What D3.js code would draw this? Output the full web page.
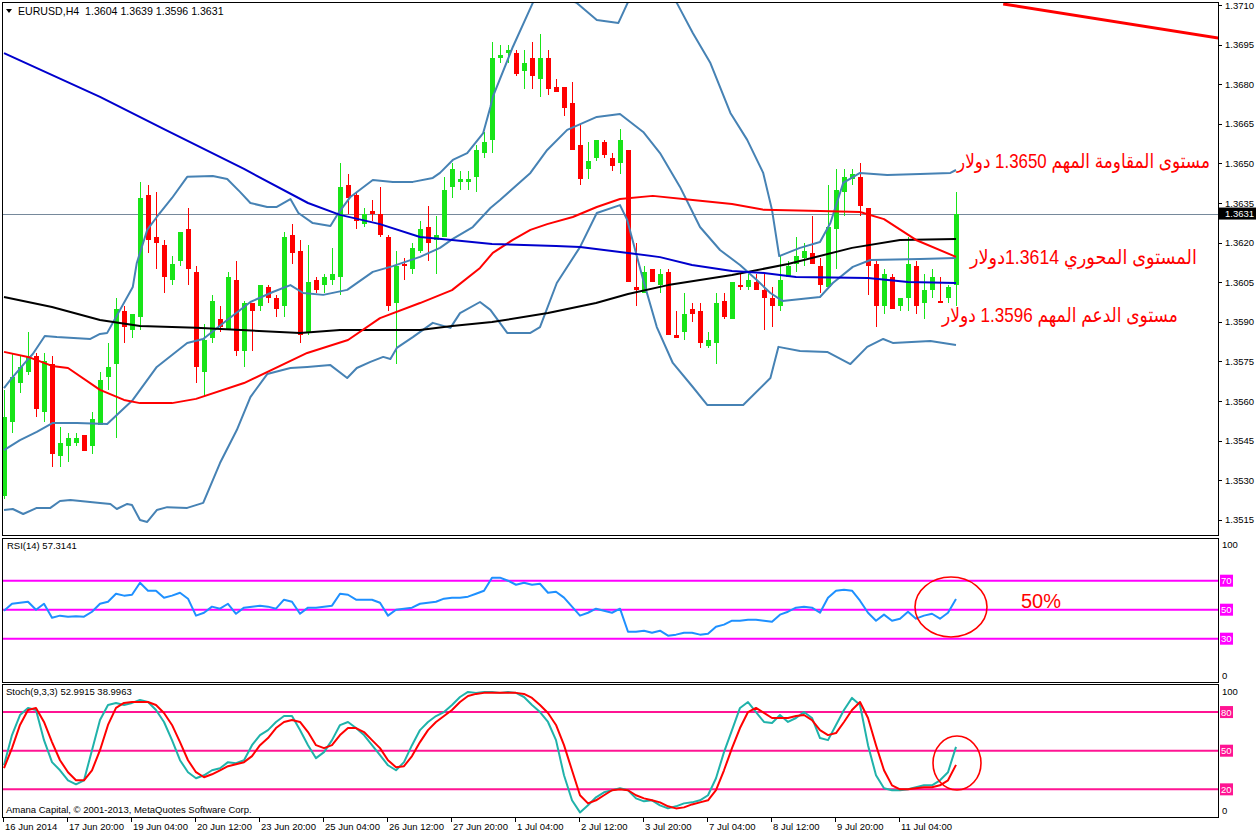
<!DOCTYPE html>
<html><head><meta charset="utf-8">
<script src="https://cdn.jsdelivr.net/npm/d3@7"></script>
<style>body{margin:0;background:#fff}svg{display:block}text{white-space:pre}</style>
</head><body>
<script>
// ---------- DATA ----------
const symbolTitle = "EURUSD,H4  1.3604 1.3639 1.3596 1.3631";
// [open, high, low, close] per H4 bar
const candles = [
[1.3524,1.3564,1.3523,1.3554],[1.3552,1.3578,1.3548,1.3569],[1.3567,1.3577,1.3563,1.3573],[1.3571,1.3586,1.3570,1.3577],
[1.3577,1.3578,1.3554,1.3557],[1.3556,1.3578,1.3552,1.3575],[1.3574,1.3577,1.3535,1.3540],[1.3539,1.3550,1.3535,1.3544],
[1.3543,1.3548,1.3537,1.3546],[1.3544,1.3548,1.3543,1.3546],[1.3547,1.3547,1.3541,1.3541],[1.3543,1.3556,1.3540,1.3553],
[1.3551,1.3571,1.3551,1.3568],[1.3569,1.3582,1.3564,1.3573],[1.3574,1.3599,1.3546,1.3595],[1.3594,1.3596,1.3582,1.3588],
[1.3587,1.3593,1.3584,1.3593],[1.3592,1.3643,1.3587,1.3637],[1.3638,1.3642,1.3616,1.3621],[1.3622,1.3639,1.3610,1.3620],
[1.3619,1.3621,1.3601,1.3607],[1.3606,1.3615,1.3604,1.3612],[1.3613,1.3624,1.3611,1.3624],[1.3625,1.3633,1.3604,1.3610],
[1.3609,1.3611,1.3567,1.3573],[1.3571,1.3589,1.3562,1.3583],[1.3584,1.3600,1.3582,1.3598],[1.3591,1.3596,1.3586,1.3588],
[1.3587,1.3609,1.3587,1.3607],[1.3606,1.3613,1.3577,1.3579],[1.3579,1.3598,1.3573,1.3597],[1.3597,1.3597,1.3579,1.3594],
[1.3596,1.3604,1.3594,1.3604],[1.3603,1.3604,1.3597,1.3599],[1.3599,1.3600,1.3592,1.3595],[1.3596,1.3624,1.3592,1.3622],
[1.3623,1.3627,1.3612,1.3616],[1.3617,1.3621,1.3582,1.3585],[1.3586,1.3619,1.3585,1.3605],[1.3606,1.3607,1.3601,1.3602],
[1.3604,1.3608,1.3601,1.3607],[1.3606,1.3618,1.3604,1.3608],[1.3607,1.3650,1.3600,1.3641],[1.3642,1.3646,1.3631,1.3637],
[1.3638,1.3639,1.3625,1.3628],[1.3627,1.3633,1.3626,1.3631],[1.3632,1.3636,1.3628,1.3631],[1.3631,1.3641,1.3622,1.3623],
[1.3622,1.3623,1.3594,1.3596],[1.3597,1.3617,1.3574,1.3611],[1.3612,1.3614,1.3606,1.3611],[1.3610,1.3620,1.3608,1.3618],
[1.3617,1.3628,1.3616,1.3625],[1.3626,1.3634,1.3613,1.3620],[1.3621,1.3630,1.3608,1.3623],[1.3622,1.3645,1.3622,1.3640],
[1.3641,1.3650,1.3637,1.3648],[1.3643,1.3647,1.3640,1.3644],[1.3643,1.3647,1.3640,1.3644],[1.3645,1.3657,1.3639,1.3655],
[1.3654,1.3662,1.3652,1.3658],[1.3659,1.3696,1.3654,1.3690],[1.3690,1.3695,1.3688,1.3691],[1.3692,1.3695,1.3688,1.3693],
[1.3692,1.3693,1.3683,1.3684],[1.3685,1.3693,1.3678,1.3688],[1.3690,1.3696,1.3678,1.3683],[1.3682,1.3699,1.3675,1.3690],
[1.3690,1.3693,1.3676,1.3678],[1.3679,1.3682,1.3677,1.3677],[1.3679,1.3679,1.3668,1.3671],[1.3673,1.3681,1.3655,1.3655],
[1.3657,1.3665,1.3642,1.3644],[1.3648,1.3658,1.3644,1.3651],[1.3652,1.3659,1.3651,1.3659],[1.3658,1.3659,1.3652,1.3653],
[1.3652,1.3654,1.3647,1.3649],[1.3650,1.3663,1.3646,1.3659],[1.3655,1.3655,1.3605,1.3605],[1.3603,1.3620,1.3596,1.3602],
[1.3601,1.3611,1.3601,1.3609],[1.3610,1.3610,1.3605,1.3605],[1.3604,1.3610,1.3601,1.3608],[1.3609,1.3610,1.3585,1.3585],
[1.3585,1.3594,1.3584,1.3584],[1.3586,1.3601,1.3583,1.3593],[1.3595,1.3597,1.3590,1.3593],[1.3594,1.3597,1.3580,1.3582],
[1.3581,1.3586,1.3580,1.3583],[1.3582,1.3601,1.3574,1.3597],[1.3598,1.3601,1.3591,1.3592],[1.3591,1.3605,1.3591,1.3605],
[1.3604,1.3608,1.3602,1.3603],[1.3603,1.3608,1.3602,1.3606],[1.3605,1.3608,1.3602,1.3602],[1.3602,1.3608,1.3587,1.3599],
[1.3599,1.3603,1.3588,1.3596],[1.3596,1.3615,1.3594,1.3606],[1.3607,1.3613,1.3607,1.3611],[1.3612,1.3622,1.3609,1.3615],
[1.3614,1.3620,1.3611,1.3617],[1.3616,1.3630,1.3612,1.3612],[1.3611,1.3614,1.3601,1.3604],[1.3603,1.3642,1.3603,1.3626],
[1.3625,1.3648,1.3610,1.3640],[1.3639,1.3648,1.3630,1.3645],[1.3644,1.3648,1.3642,1.3646],[1.3645,1.3650,1.3630,1.3634],
[1.3633,1.3633,1.3600,1.3611],[1.3612,1.3613,1.3588,1.3596],[1.3596,1.3610,1.3593,1.3608],[1.3607,1.3608,1.3595,1.3595],
[1.3596,1.3599,1.3594,1.3599],[1.3599,1.3622,1.3594,1.3612],[1.3611,1.3613,1.3593,1.3596],[1.3597,1.3608,1.3591,1.3602],
[1.3602,1.3610,1.3599,1.3607],[1.3598,1.3607,1.3597,1.3597],[1.3599,1.3604,1.3597,1.3603],[1.3604,1.3639,1.3596,1.3631]
];
// indicator lines: [barIndex, price]
const bbUpper = [[0,1.35649],[0.8,1.35680],[2.9,1.35755],[3.6,1.35778],[5.1,1.35846],[6.6,1.35842],[10.8,1.35835],[12,1.35854],[12.9,1.35858],[16.1,1.36032],[16.6,1.36123],[17.9,1.36248],[19.1,1.36297],[21,1.36369],[22.9,1.36449],[26.1,1.36452],[27.9,1.36441],[29.5,1.36392],[30.8,1.36350],[32.9,1.36335],[34.1,1.36335],[35.8,1.36365],[36.8,1.36312],[38.6,1.36274],[40.8,1.36263],[41.8,1.36312],[43.3,1.36373],[46.1,1.36437],[48.6,1.36430],[51.1,1.36430],[53.6,1.36445],[54.5,1.36464],[56.1,1.36513],[57.9,1.36539],[59.9,1.36615],[60.8,1.36714],[61.1,1.36752],[63.6,1.36941],[66.1,1.37108],[67.6,1.37153],[69.5,1.37130],[71.6,1.37108],[74.1,1.37043],[76.8,1.37032],[78,1.37111],[79.9,1.37180],[82,1.37199],[84.1,1.37108],[86.1,1.36994],[88.3,1.36880],[90.8,1.36691],[92.9,1.36589],[94.9,1.36464],[96,1.36324],[96.9,1.36149],[99.5,1.36180],[102,1.36202],[103.3,1.36274],[104.9,1.36426],[107,1.36464],[110.4,1.36456],[114.5,1.36460],[118.3,1.36464],[119,1.36475]];
const bbMiddle = [[0,1.35414],[2,1.35452],[4.1,1.35483],[6.1,1.35517],[9.1,1.35517],[12.9,1.35513],[16.1,1.35604],[19.1,1.35729],[22.9,1.35820],[24.9,1.35835],[27.9,1.35907],[30.8,1.35975],[33.6,1.36013],[35.8,1.36039],[37.4,1.36009],[39.9,1.36002],[42.9,1.36021],[46.1,1.36089],[48.6,1.36111],[52,1.36146],[54.5,1.36180],[56.1,1.36214],[58.6,1.36259],[60.8,1.36331],[62,1.36361],[65.8,1.36464],[67.9,1.36551],[70.4,1.36627],[74.1,1.36676],[77,1.36687],[79.9,1.36619],[82,1.36539],[84.5,1.36411],[87,1.36259],[89.5,1.36172],[92,1.36115],[94.1,1.36058],[95.8,1.36009],[97.3,1.35979],[102,1.35994],[103.6,1.36047],[106.1,1.36108],[108.3,1.36134],[114.5,1.36138],[119,1.36142]];
const bbLower = [[0,1.35187],[1.1,1.35191],[2.4,1.35172],[4.1,1.35195],[5.8,1.35195],[7,1.35221],[8.3,1.35225],[12,1.35214],[13.3,1.35210],[14.1,1.35191],[15.4,1.35210],[16,1.35206],[17,1.35149],[17.9,1.35142],[19.1,1.35187],[20.4,1.35198],[22.9,1.35195],[24.9,1.35214],[27,1.35365],[29.1,1.35490],[30.8,1.35615],[32.9,1.35702],[35.8,1.35725],[37.9,1.35729],[40.8,1.35736],[42.9,1.35687],[44.1,1.35725],[45.8,1.35748],[47.4,1.35767],[48.3,1.35759],[49.1,1.35801],[51.1,1.35842],[53.6,1.35896],[55.8,1.35877],[57,1.35933],[59.5,1.35975],[60.8,1.35945],[62.9,1.35858],[65.8,1.35858],[67,1.35880],[69.1,1.36047],[72,1.36183],[74.1,1.36312],[77,1.36342],[77.9,1.36286],[79.9,1.36058],[81.6,1.35880],[83.6,1.35744],[86.1,1.35653],[87.9,1.35585],[92.4,1.35585],[95.8,1.35687],[96.8,1.35805],[99.5,1.35789],[102.9,1.35786],[105.8,1.35740],[107.9,1.35805],[109.9,1.35835],[111.1,1.35820],[115.8,1.35827],[119,1.35812]];
const maRed = [[0,1.35786],[3,1.35767],[6,1.35733],[8,1.35725],[12,1.35642],[15,1.35604],[17,1.35592],[21,1.35592],[24,1.35608],[30,1.35668],[37.9,1.35782],[43,1.35831],[47,1.35914],[52,1.35971],[56,1.36020],[59.5,1.36104],[61.1,1.36161],[63.6,1.36210],[65.8,1.36248],[67.9,1.36270],[71.1,1.36297],[74.1,1.36335],[77,1.36365],[81.1,1.36377],[86.1,1.36361],[91,1.36346],[95,1.36324],[102,1.36320],[107,1.36316],[110,1.36289],[114,1.36210],[119,1.36146]];
const maBlack = [[0,1.35994],[6,1.35956],[12,1.35907],[17,1.35884],[24,1.35877],[37,1.35858],[42,1.35869],[52,1.35869],[56,1.35884],[61,1.35899],[68,1.35933],[74,1.35971],[78,1.36005],[83,1.36039],[91,1.36077],[98,1.36119],[106,1.36180],[112,1.36210],[119,1.36214]];
const maBlue = [[0,1.36918],[12,1.36752],[20,1.36630],[30,1.36479],[38,1.36350],[42,1.36305],[47,1.36270],[52,1.36221],[56,1.36210],[61,1.36195],[69,1.36187],[72,1.36183],[78,1.36161],[82,1.36145],[86,1.36115],[91,1.36092],[95,1.36085],[99,1.36070],[108,1.36066],[113,1.36051],[119,1.36047]];
const trendLine = [[124.9,1.37104],[151.8,1.36975]];
const lastPrice = 1.3631;
const priceTicks = [1.3710,1.3695,1.3680,1.3665,1.3650,1.3635,1.3620,1.3605,1.3590,1.3575,1.3560,1.3545,1.3530,1.3515];
const rsiValues = [49.3,54.1,54.8,55.5,50.0,54.1,44.5,45.9,45.2,45.5,45.2,48.6,54.1,55.5,61.0,59.7,60.3,68.6,63.1,63.1,
58.3,59.7,61.7,57.6,45.9,47.9,52.1,50.7,54.1,47.2,51.4,52.1,52.8,52.1,50.7,56.9,55.5,47.2,51.4,51.4,
52.1,52.8,61.0,60.3,56.9,56.9,56.9,54.8,45.9,50.0,50.7,51.4,54.1,54.8,55.5,57.6,58.3,58.3,59.0,61.0,
63.1,72.1,72.1,70.0,67.2,68.6,67.2,67.9,61.7,62.4,58.3,52.1,45.9,47.9,50.7,49.3,47.9,50.7,34.8,34.8,
35.5,34.1,35.5,32.1,32.8,34.1,34.1,32.8,33.4,38.3,39.7,42.4,42.4,43.1,43.1,42.4,41.7,46.6,48.6,51.4,
52.1,51.4,47.9,58.3,63.1,63.8,63.1,56.2,47.9,42.4,46.6,42.4,43.8,48.6,43.8,45.9,47.2,43.8,47.9,57.31];
const rsiLevels = [70,50,30];
const stochMain = [38.7,62.1,77.7,83.2,81.6,58.2,41.1,34.8,27.0,23.9,27.0,50.4,73.8,85.5,87.1,85.5,87.1,89.4,87.8,81.6,
72.3,58.2,42.6,33.3,28.6,30.9,34.8,36.4,41.1,40.3,42.6,54.3,62.1,66.0,72.3,76.9,76.9,66.0,54.3,44.2,
48.9,58.2,69.9,72.3,67.6,62.1,54.3,46.5,38.7,34.8,41.1,54.3,66.0,72.3,76.9,80.0,85.5,91.7,95.6,94.9,
95.6,95.6,94.9,95.6,94.9,91.7,85.5,80.0,72.3,58.2,30.9,11.5,2.1,7.6,13.8,17.7,19.3,20.8,19.3,13.0,
10.7,11.5,7.6,5.2,6.8,9.1,9.9,11.5,15.4,28.6,48.9,66.0,83.2,87.8,80.0,72.3,71.5,77.7,72.3,75.4,
80.0,75.4,59.8,58.2,69.9,81.6,91.0,85.5,54.3,30.9,20.8,19.3,19.3,20.0,21.6,23.1,23.1,27.0,33.3,52.99];
const stochSignal = [36.4,52.0,70.0,81.6,83.2,72.3,56.7,42.6,33.3,27.0,27.0,34.8,50.4,70.0,83.2,87.1,87.8,87.8,87.8,85.5,
79.3,70.0,56.7,42.6,33.3,29.4,31.7,34.8,38.0,39.5,41.1,45.8,54.3,59.8,67.6,72.3,73.8,72.3,64.5,54.3,
52.0,54.3,62.1,67.6,67.6,64.5,58.2,52.0,42.6,37.2,38.0,45.8,56.7,66.0,72.3,76.9,81.6,87.8,92.5,94.1,
94.9,94.9,94.9,94.9,94.9,94.1,91.0,85.5,79.3,70.0,54.3,34.8,15.4,9.1,11.5,15.4,19.3,20.0,19.3,15.4,
13.0,11.5,9.9,6.8,5.2,6.0,8.3,9.9,11.5,19.3,34.8,52.0,67.6,80.0,83.2,79.3,75.4,75.4,75.4,76.9,
77.7,73.8,66.0,62.1,63.7,72.3,81.6,87.8,75.4,54.3,34.8,23.1,20.0,20.0,20.8,21.6,21.6,23.1,27.0,39.0];
const stochLevels = [80,50,20];
const timeTickBars = [0,8,16,24,32,40,48,56,64,72,80,88,96,104,112];
const timeTickLabels = ["16 Jun 2014","17 Jun 20:00","19 Jun 04:00","20 Jun 12:00","23 Jun 20:00","25 Jun 04:00","26 Jun 12:00","27 Jun 20:00","1 Jul 04:00","2 Jul 12:00","3 Jul 20:00","7 Jul 04:00","8 Jul 12:00","9 Jul 20:00","11 Jul 04:00"];
const annotationTexts = ["مستوى المقاومة المهم 1.3650 دولار","المستوى المحوري 1.3614دولار","مستوى الدعم المهم 1.3596 دولار","50%"];

// ---------- LAYOUT ----------
const W=1258,H=835, L=2, R=1218;
const mainP={top:2,bot:535}, rsiP={top:538,bot:682}, stP={top:684,bot:817};
const FONT='"Liberation Sans", Arial, sans-serif';
const AFONT='"Liberation Sans", Arial, "DejaVu Sans", sans-serif';

const x=d3.scaleLinear().domain([0,119]).range([4,956]);
const y=d3.scaleLinear().domain([1.3515,1.3710]).range([519.8,5]);
const yR=d3.scaleLinear().domain([0,100]).range([682.2,537.2]);
const yS=d3.scaleLinear().domain([0,100]).range([815.1,686.3]);

const svg=d3.select("body").append("svg").attr("width",W).attr("height",H).style("font-family",FONT);
svg.append("rect").attr("width",W).attr("height",H).attr("fill","#fff");
const defs=svg.append("defs");
[["cm",mainP],["cr",rsiP],["cs",stP]].forEach(([id,p])=>{
  defs.append("clipPath").attr("id",id).append("rect").attr("x",L).attr("y",p.top).attr("width",R-L).attr("height",p.bot-p.top);
});

// ---------- MAIN PANEL ----------
const gm=svg.append("g").attr("clip-path","url(#cm)");
gm.append("line").attr("x1",L).attr("x2",R).attr("y1",Math.round(y(lastPrice))+0.5).attr("y2",Math.round(y(lastPrice))+0.5)
  .attr("stroke","#76899b").attr("stroke-width",1);

const bull="#18e418", bear="#ff0000";
const cg=gm.append("g").attr("shape-rendering","crispEdges");
cg.selectAll("line.w").data(candles).join("line").attr("class","w")
  .attr("x1",(d,i)=>x(i)+0.5).attr("x2",(d,i)=>x(i)+0.5)
  .attr("y1",d=>y(d[1])).attr("y2",d=>y(d[2]))
  .attr("stroke",d=>d[3]>=d[0]?bull:bear).attr("stroke-width",1);
cg.selectAll("rect.b").data(candles).join("rect").attr("class","b")
  .attr("x",(d,i)=>x(i)-2).attr("width",5)
  .attr("y",d=>y(Math.max(d[0],d[3])))
  .attr("height",d=>Math.max(1,Math.abs(y(d[0])-y(d[3]))))
  .attr("fill",d=>d[3]>=d[0]?bull:bear);

const pl=d3.line().x(d=>x(d[0])).y(d=>y(d[1]));
[[bbUpper,"#4682b4",2],[bbMiddle,"#4682b4",2],[bbLower,"#4682b4",2],
 [maBlack,"#000000",2],[maRed,"#ff0000",2],[maBlue,"#0000cd",2],[trendLine,"#ff0000",3]].forEach(([d,c,w])=>{
  gm.append("path").attr("d",pl(d)).attr("fill","none").attr("stroke",c).attr("stroke-width",w).attr("stroke-linejoin","round");
});

// annotations: text scaled horizontally to the width seen in the picture
const ann=svg.append("g").attr("font-family",AFONT).attr("font-size",20).attr("fill","#ff0000");
function fitText(str, left, base, width){
  const g=ann.append("g");
  const t=g.append("text").attr("x",0).attr("y",0).text(str);
  const w=t.node().getComputedTextLength();
  const s=Math.min(1,width/w);
  g.attr("transform",`translate(${left},${base}) scale(${s},1)`);
}
fitText(annotationTexts[0],957,168,253);
fitText(annotationTexts[1],970,264,227);
fitText(annotationTexts[2],942,322,236);

// title
svg.append("path").attr("d","M6,9 L12,9 L9,13 Z").attr("fill","#000");
svg.append("text").attr("x",18).attr("y",15).attr("font-size",10.6).attr("fill","#000").text(symbolTitle);

// ---------- RSI PANEL ----------
const gr=svg.append("g").attr("clip-path","url(#cr)");
gr.selectAll("line").data(rsiLevels).join("line").attr("x1",L).attr("x2",R)
  .attr("y1",d=>yR(d)).attr("y2",d=>yR(d)).attr("stroke","#ff00ff").attr("stroke-width",2);
gr.append("path").attr("d",d3.line().x((d,i)=>x(i)).y(d=>yR(d))(rsiValues))
  .attr("fill","none").attr("stroke","#1e90ff").attr("stroke-width",2).attr("stroke-linejoin","round");
svg.append("text").attr("x",7).attr("y",549).attr("font-size",9.5).text("RSI(14) 57.3141");
svg.append("ellipse").attr("cx",951).attr("cy",607).attr("rx",36).attr("ry",30)
  .attr("fill","none").attr("stroke","#ff0000").attr("stroke-width",1.6);
ann.append("text").attr("x",1021).attr("y",608).text(annotationTexts[3]);

// ---------- STOCH PANEL ----------
const gs=svg.append("g").attr("clip-path","url(#cs)");
gs.selectAll("line").data(stochLevels).join("line").attr("x1",L).attr("x2",R)
  .attr("y1",d=>yS(d)).attr("y2",d=>yS(d)).attr("stroke","#ff1493").attr("stroke-width",2);
const sl=d3.line().x((d,i)=>x(i)).y(d=>yS(d));
gs.append("path").attr("d",sl(stochMain)).attr("fill","none").attr("stroke","#20b2aa").attr("stroke-width",2).attr("stroke-linejoin","round");
gs.append("path").attr("d",sl(stochSignal)).attr("fill","none").attr("stroke","#ff0000").attr("stroke-width",2).attr("stroke-linejoin","round");
svg.append("text").attr("x",6).attr("y",695).attr("font-size",9.5).text("Stoch(9,3,3) 52.9915 38.9963");
svg.append("ellipse").attr("cx",957).attr("cy",763).attr("rx",24).attr("ry",27)
  .attr("fill","none").attr("stroke","#ff0000").attr("stroke-width",1.6);
svg.append("text").attr("x",6).attr("y",813).attr("font-size",9.5).text("Amana Capital, © 2001-2013, MetaQuotes Software Corp.");

// ---------- FRAMES ----------
[mainP,rsiP,stP].forEach(p=>{
  svg.append("rect").attr("x",L+0.5).attr("y",p.top+0.5).attr("width",R-L).attr("height",p.bot-p.top)
    .attr("fill","none").attr("stroke","#000").attr("stroke-width",1).attr("shape-rendering","crispEdges");
});

// ---------- AXES ----------
const ax=svg.append("g").attr("font-size",9.5).attr("fill","#000");
priceTicks.forEach(p=>{
  ax.append("line").attr("x1",R).attr("x2",R+4).attr("y1",Math.round(y(p))+0.5).attr("y2",Math.round(y(p))+0.5).attr("stroke","#000");
  ax.append("text").attr("x",R+7).attr("y",y(p)+3.5).text(p.toFixed(4));
});
ax.append("rect").attr("x",R+1).attr("y",y(lastPrice)-6).attr("width",37).attr("height",12).attr("fill","#000");
ax.append("text").attr("x",R+7).attr("y",y(lastPrice)+3.5).attr("fill","#fff").text(lastPrice.toFixed(4));

function levelLabels(levels, sc, col){
  levels.forEach(v=>{
    ax.append("rect").attr("x",R+2).attr("y",sc(v)-6).attr("width",13).attr("height",12).attr("fill",col);
    ax.append("text").attr("x",R+3).attr("y",sc(v)+3.5).attr("fill","#fff").text(v);
  });
}
levelLabels(rsiLevels,yR,"#ff00ff");
levelLabels(stochLevels,yS,"#ff1493");
ax.append("text").attr("x",R+4).attr("y",548).text("100");
ax.append("text").attr("x",R+4).attr("y",679).text("0");
ax.append("text").attr("x",R+4).attr("y",695).text("100");
ax.append("text").attr("x",R+4).attr("y",814).text("0");

timeTickBars.forEach((b,i)=>{
  ax.append("line").attr("x1",x(b)-0.5).attr("x2",x(b)-0.5).attr("y1",stP.bot).attr("y2",stP.bot+5).attr("stroke","#000");
  ax.append("text").attr("x",x(b)+1).attr("y",830).text(timeTickLabels[i]);
});
</script>
</body></html>
